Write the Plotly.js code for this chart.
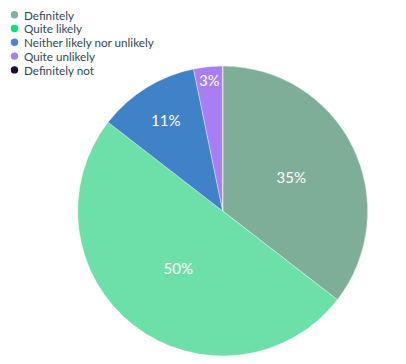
<!DOCTYPE html>
<html>
<head>
<meta charset="utf-8">
<script src="https://cdn.plot.ly/plotly-3.0.1.min.js"></script>
<style>html,body{margin:0;padding:0;background:#fff;}#chart{width:406px;height:364px;}</style>
</head>
<body>
<div id="chart"></div>
<script>
const labels = ["Definitely", "Quite likely", "Neither likely nor unlikely", "Quite unlikely", "Definitely not"];
const values = [22, 31, 7, 2, 0];
const sliceColors = ["#7fae98", "#6de0a9", "#3f82c8", "#a97ef5", "#1e0535"];
const legendColors = ["#80b39a", "#00e676", "#4a86d0", "#a77ff0", "#220a38"];

const W = 406, H = 364;
const cx = 222.7, cy = 211, r = 145;

const annotations = [];
const shapes = [];
labels.forEach((lab, i) => {
  const yPx = 14.7 + 13.8 * i;
  annotations.push({
    text: lab, xref: 'paper', yref: 'paper',
    x: 22.5 / W, y: 1 - yPx / H, xanchor: 'left', yanchor: 'middle',
    borderpad: 0,
    showarrow: false, font: {family: 'Lato', size: 11.7, color: '#35465a'}
  });
  const mr = 3.7, mx = 14.5;
  shapes.push({
    type: 'circle', xref: 'paper', yref: 'paper',
    x0: (mx - mr) / W, x1: (mx + mr) / W,
    y0: 1 - (yPx + mr) / H, y1: 1 - (yPx - mr) / H,
    fillcolor: legendColors[i], line: {width: 0}
  });
});

const data = [{
  type: 'pie',
  labels: labels,
  values: values,
  sort: false,
  direction: 'clockwise',
  rotation: 0,
  marker: {colors: sliceColors, line: {color: 'rgba(255,255,255,0.6)', width: 0.6}},
  texttemplate: values.map(v => v > 0 ? '%{percent:.0%}' : ''),
  textposition: 'inside',
  insidetextorientation: 'horizontal',
  textfont: {family: 'Lato', size: 15, color: '#ffffff'},
  hoverinfo: 'label+percent',
  showlegend: false,
  domain: {x: [(cx - r) / W, (cx + r) / W], y: [1 - (cy + r) / H, 1 - (cy - r) / H]}
}];

const layout = {
  width: W, height: H,
  margin: {l: 0, r: 0, t: 0, b: 0},
  paper_bgcolor: '#ffffff',
  showlegend: false,
  annotations: annotations,
  shapes: shapes,
  font: {family: 'Lato'}
};

Plotly.newPlot('chart', data, layout, {displayModeBar: false, staticPlot: true});
</script>
</body>
</html>
